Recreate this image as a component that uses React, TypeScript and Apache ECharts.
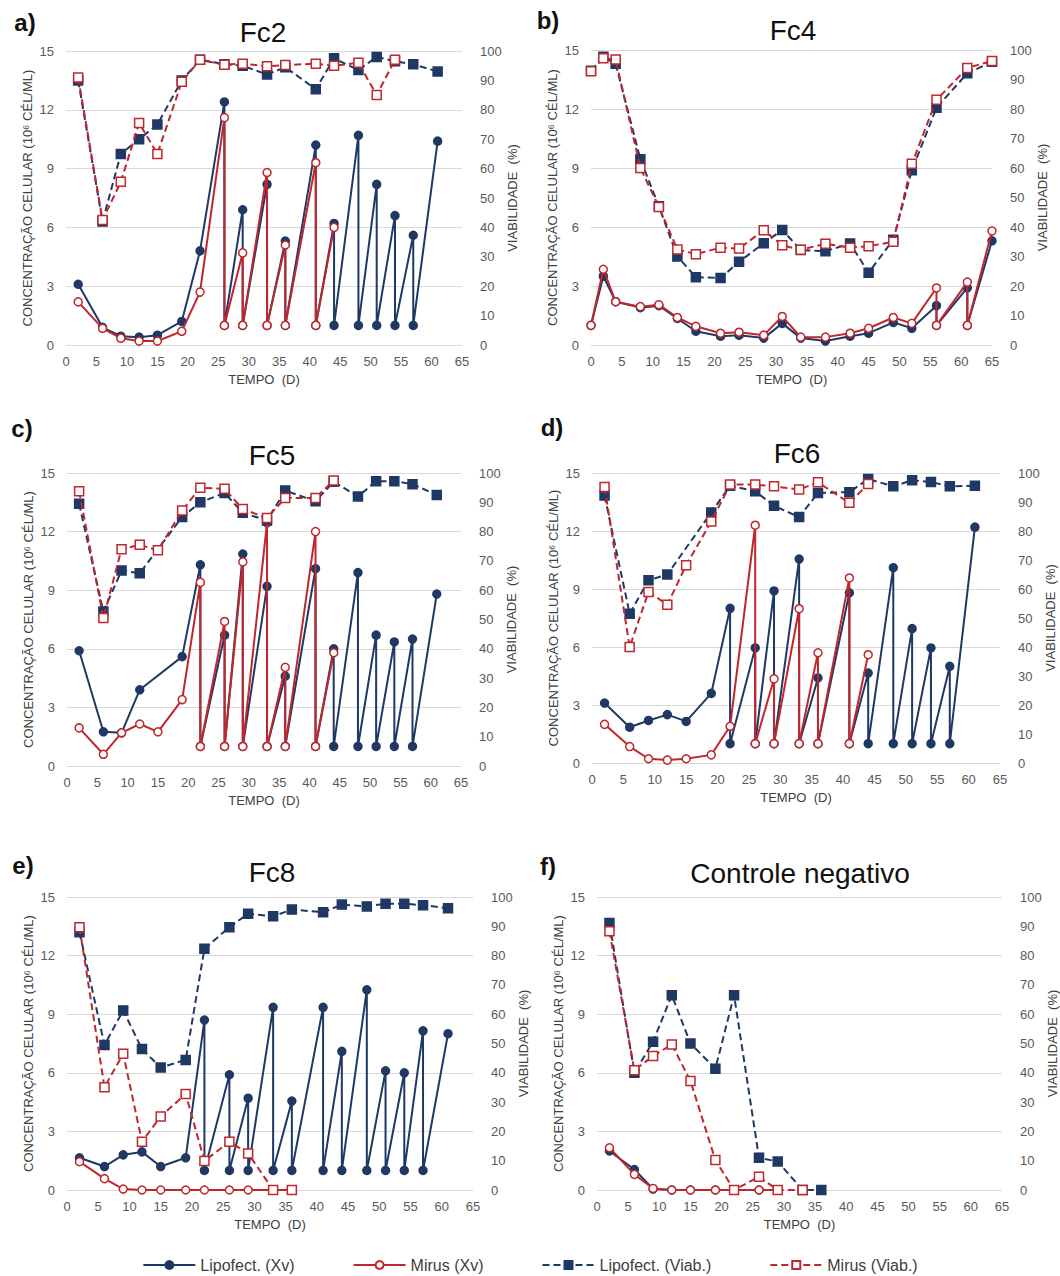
import React, { useEffect, useRef } from 'react';
import * as echarts from 'echarts';

const BLUE = '#1f3864';
const RED = '#c0262d';
const FONT = '"Liberation Sans", Arial, sans-serif';

const seriesNames = ['Lipofect. (Xv)', 'Mirus (Xv)', 'Lipofect. (Viab.)', 'Mirus (Viab.)'];
const panelTitles = ['Fc2', 'Fc4', 'Fc5', 'Fc6', 'Fc8', 'Controle negativo'];
const panelLetters = ['a)', 'b)', 'c)', 'd)', 'e)', 'f)'];
const leftTicks = { min: 0, max: 15, interval: 3 };
const rightTicks = { min: 0, max: 100, interval: 10 };
const xTicks = { min: 0, max: 65, interval: 5 };

// Fc2
const fc2LipoXv = [[2,3.1],[6,0.9],[9,0.45],[12,0.4],[15,0.5],[19,1.2],[22,4.8],[26,12.4],[26,1],[29,6.9],[29,1],[33,8.2],[33,1],[36,5.3],[36,1],[41,10.2],[41,1],[44,6.2],[44,1],[48,10.7],[48,1],[51,8.2],[51,1],[54,6.6],[54,1],[57,5.6],[57,1],[61,10.4]];
const fc2MirusXv = [[2,2.2],[6,0.85],[9,0.35],[12,0.2],[15,0.2],[19,0.7],[22,2.7],[26,11.6],[26,1],[29,4.7],[29,1],[33,8.8],[33,1],[36,5.1],[36,1],[41,9.3],[41,1],[44,6.0]];
const fc2LipoViab = [[2,90],[6,42],[9,65],[12,70],[15,75],[19,90],[22,97],[26,95.5],[29,95],[33,92],[36,94.5],[41,87],[44,97.5],[48,93.5],[51,98],[54,96.5],[57,95.5],[61,93]];
const fc2MirusViab = [[2,91],[6,42.5],[9,55.5],[12,75.5],[15,65],[19,89.5],[22,97],[26,95.3],[29,95.7],[33,94.8],[36,95.2],[41,95.7],[44,95],[48,96],[51,85],[54,97]];

// Fc4
const fc4LipoXv = [[0,1.0],[2,3.5],[4,2.2],[8,1.9],[11,2.0],[14,1.35],[17,0.7],[21,0.45],[24,0.5],[28,0.35],[31,1.1],[34,0.35],[38,0.2],[42,0.45],[45,0.6],[49,1.15],[52,0.85],[56,2.0],[56,1.0],[61,2.9],[61,1.0],[65,5.3]];
const fc4MirusXv = [[0,1.0],[2,3.85],[4,2.2],[8,1.95],[11,2.05],[14,1.4],[17,0.95],[21,0.6],[24,0.65],[28,0.5],[31,1.45],[34,0.4],[38,0.4],[42,0.6],[45,0.85],[49,1.4],[52,1.1],[56,2.9],[56,1.0],[61,3.2],[61,1.0],[65,5.8]];
const fc4LipoViab = [[0,93],[2,97.7],[4,95.3],[8,63],[11,47],[14,30],[17,23],[21,22.7],[24,28.2],[28,34.5],[31,39],[34,32.2],[38,31.8],[42,34.4],[45,24.5],[49,35.7],[52,59.2],[56,80.4],[61,92.1],[65,96]];
const fc4MirusViab = [[0,92.8],[2,97.2],[4,96.8],[8,60],[11,46.8],[14,32.4],[17,30.8],[21,33],[24,32.7],[28,38.9],[31,33.8],[34,32.3],[38,34.3],[42,33],[45,33.5],[49,35],[52,61.4],[56,83.1],[61,93.9],[65,96.3]];

// Fc5
const fc5LipoXv = [[2,5.9],[6,1.75],[9,1.7],[12,3.9],[19,5.6],[22,10.3],[22,1],[26,6.7],[26,1],[29,10.85],[29,1],[33,9.2],[33,1],[36,4.6],[36,1],[41,10.1],[41,1],[44,6.0],[44,1],[48,9.9],[48,1],[51,6.7],[51,1],[54,6.35],[54,1],[57,6.5],[57,1],[61,8.8]];
const fc5MirusXv = [[2,1.95],[6,0.6],[9,1.7],[12,2.15],[15,1.75],[19,3.4],[22,9.4],[22,1],[26,7.4],[26,1],[29,10.45],[29,1],[33,12.45],[33,1],[36,5.05],[36,1],[41,12.0],[41,1],[44,5.8]];
const fc5LipoViab = [[2,89.5],[6,52.7],[9,66.7],[12,65.8],[19,85],[22,90],[26,93.2],[29,86.4],[33,83.8],[36,94],[41,90.4],[44,97],[48,92],[51,97.2],[54,97.2],[57,96.2],[61,92.5]];
const fc5MirusViab = [[2,93.8],[6,50.5],[9,74],[12,75.5],[15,73.6],[19,87.2],[22,95],[26,94.6],[29,87.7],[33,84.6],[36,91.5],[41,91.5],[44,97.4]];

// Fc6
const fc6LipoXv = [[2,3.1],[6,1.85],[9,2.2],[12,2.5],[15,2.15],[19,3.6],[22,8.0],[22,1],[26,5.95],[26,1],[29,8.9],[29,1],[33,10.55],[33,1],[36,4.4],[36,1],[41,8.8],[41,1],[44,4.65],[44,1],[48,10.1],[48,1],[51,6.95],[51,1],[54,5.95],[54,1],[57,5.0],[57,1],[61,12.2]];
const fc6MirusXv = [[2,2.0],[6,0.85],[9,0.22],[12,0.15],[15,0.22],[19,0.42],[22,1.9],[26,12.3],[26,1],[29,4.35],[29,1],[33,7.98],[33,1],[36,5.7],[36,1],[41,9.57],[41,1],[44,5.6]];
const fc6LipoViab = [[2,92.2],[6,51.5],[9,63],[12,65],[19,86.4],[22,95.6],[26,93.7],[29,88.7],[33,84.8],[36,93.1],[41,93.4],[44,97.9],[48,95.4],[51,97.5],[54,96.9],[57,95.4],[61,95.6]];
const fc6MirusViab = [[2,95.2],[6,40],[9,59],[12,54.6],[15,68.2],[19,83.3],[22,96],[26,96],[29,95.4],[33,94.3],[36,96.8],[41,89.7],[44,96.2]];

// Fc8
const fc8LipoXv = [[2,1.65],[6,1.2],[9,1.8],[12,1.95],[15,1.2],[19,1.65],[22,8.7],[22,1],[26,5.9],[26,1],[29,4.7],[29,1],[33,9.35],[33,1],[36,4.55],[36,1],[41,9.35],[41,1],[44,7.1],[44,1],[48,10.25],[48,1],[51,6.1],[51,1],[54,6.0],[54,1],[57,8.15],[57,1],[61,8.0]];
const fc8MirusXv = [[2,1.45],[6,0.58],[9,0.05],[12,0],[15,0],[19,0],[22,0],[26,0],[29,0],[33,0],[36,0]];
const fc8LipoViab = [[2,88],[6,49.5],[9,61.3],[12,48.1],[15,41.8],[19,44.4],[22,82.3],[26,89.7],[29,94.3],[33,93.4],[36,95.7],[41,94.8],[44,97.4],[48,96.8],[51,97.7],[54,97.7],[57,97.2],[61,96.2]];
const fc8MirusViab = [[2,89.7],[6,35.1],[9,46.5],[12,16.5],[15,25.1],[19,32.8],[22,9.9],[26,16.5],[29,12.5],[33,0],[36,0]];

// Controle negativo
const cnLipoXv = [[2,2.0],[6,1.05],[9,0.05],[12,0],[15,0],[19,0],[22,0],[26,0],[29,0]];
const cnMirusXv = [[2,2.16],[6,0.8],[9,0.08],[12,0],[15,0],[19,0],[22,0],[26,0],[29,0]];
const cnLipoViab = [[2,91.1],[6,40],[9,50.6],[12,66.5],[15,50],[19,41.4],[22,66.5],[26,11],[29,9.7],[33,0],[36,0]];
const cnMirusViab = [[2,88.3],[6,40.9],[9,45.7],[12,49.7],[15,37.2],[19,10.2],[22,0],[26,4.5],[29,0],[33,0]];

const panelData = [
  [fc2LipoXv, fc2MirusXv, fc2LipoViab, fc2MirusViab],
  [fc4LipoXv, fc4MirusXv, fc4LipoViab, fc4MirusViab],
  [fc5LipoXv, fc5MirusXv, fc5LipoViab, fc5MirusViab],
  [fc6LipoXv, fc6MirusXv, fc6LipoViab, fc6MirusViab],
  [fc8LipoXv, fc8MirusXv, fc8LipoViab, fc8MirusViab],
  [cnLipoXv, cnMirusXv, cnLipoViab, cnMirusViab],
];

// layout (pixels)
const gridRects = [
  { left: 66, top: 51, width: 396, height: 294 },
  { left: 591, top: 50, width: 401, height: 295 },
  { left: 67, top: 473, width: 394, height: 293 },
  { left: 592, top: 473, width: 408, height: 290 },
  { left: 67, top: 897, width: 406, height: 293 },
  { left: 597, top: 897, width: 405, height: 293 },
];
const titlePos = [[263, 32], [793, 30], [272, 455], [797, 453], [272, 872], [800, 873]];
const letterPos = [[25, 22], [548, 20], [22, 428], [552, 427], [23, 865], [548, 866]];

const seriesStyles = [
  { lineType: 'solid', symbol: 'circle', size: 8, fill: BLUE, color: BLUE, yRight: false },
  { lineType: 'solid', symbol: 'circle', size: 8, fill: '#ffffff', color: RED, yRight: false },
  { lineType: [7, 4], symbol: 'rect', size: 9, fill: BLUE, color: BLUE, yRight: true },
  { lineType: [7, 4], symbol: 'rect', size: 9, fill: '#ffffff', color: RED, yRight: true },
];

function buildOption() {
  const grid: any[] = [];
  const xAxis: any[] = [];
  const yAxis: any[] = [];
  const series: any[] = [];
  const graphic: any[] = [];
  const axisLabel = { color: '#595959', fontSize: 13, fontFamily: FONT };
  const nameStyle = { color: '#404040', fontSize: 13, fontFamily: FONT };

  gridRects.forEach((g, i) => {
    grid.push({ ...g, containLabel: false });
    xAxis.push({
      type: 'value', gridIndex: i, ...xTicks,
      name: 'TEMPO  (D)', nameLocation: 'middle', nameGap: 28,
      nameTextStyle: nameStyle,
      axisLine: { show: false }, axisTick: { show: false }, splitLine: { show: false },
      axisLabel: { ...axisLabel, margin: 10 },
    });
    yAxis.push({
      type: 'value', gridIndex: i, position: 'left', ...leftTicks,
      name: 'CONCENTRAÇÃO CELULAR (10⁶ CÉL/ML)', nameLocation: 'middle', nameGap: 32, nameRotate: 90,
      nameTextStyle: nameStyle,
      axisLine: { show: false }, axisTick: { show: false },
      splitLine: { show: true, lineStyle: { color: '#d9d9d9', width: 1 } },
      axisLabel: { ...axisLabel, margin: 12 },
    });
    yAxis.push({
      type: 'value', gridIndex: i, position: 'right', ...rightTicks,
      name: 'VIABILIDADE  (%)', nameLocation: 'middle', nameGap: 39, nameRotate: 90,
      nameTextStyle: nameStyle,
      axisLine: { show: false }, axisTick: { show: false }, splitLine: { show: false },
      axisLabel: { ...axisLabel, margin: 18 },
    });
    panelData[i].forEach((data, k) => {
      const st = seriesStyles[k];
      series.push({
        type: 'line', name: seriesNames[k], data,
        xAxisIndex: i, yAxisIndex: st.yRight ? 2 * i + 1 : 2 * i,
        symbol: st.symbol, symbolSize: st.size, showSymbol: true,
        lineStyle: { color: st.color, width: 2, type: st.lineType },
        itemStyle: { color: st.fill, borderColor: st.color, borderWidth: 1.5 },
        emphasis: { disabled: true },
        z: 2 + k,
      });
    });
    graphic.push({
      type: 'text', x: titlePos[i][0], y: titlePos[i][1],
      style: { text: panelTitles[i], fontSize: 28, fontFamily: FONT, fill: '#111', align: 'center', verticalAlign: 'middle', textAlign: 'center', textVerticalAlign: 'middle' },
    });
    graphic.push({
      type: 'text', x: letterPos[i][0], y: letterPos[i][1],
      style: { text: panelLetters[i], fontSize: 24, fontWeight: 'bold', fontFamily: FONT, fill: '#111', align: 'center', verticalAlign: 'middle', textAlign: 'center', textVerticalAlign: 'middle' },
    });
  });

  return {
    animation: false,
    backgroundColor: '#ffffff',
    grid, xAxis, yAxis, series, graphic,
    legend: {
      data: seriesNames, top: 1256, left: 'center', padding: 0,
      itemWidth: 52, itemHeight: 10, itemGap: 58,
      textStyle: { color: '#404040', fontSize: 16, fontFamily: FONT, lineHeight: 18 },
    },
  };
}

export default function App() {
  const ref = useRef<HTMLDivElement>(null);
  useEffect(() => {
    if (!ref.current) return;
    const chart = echarts.init(ref.current, undefined, { renderer: 'svg' });
    chart.setOption(buildOption() as any);
    return () => chart.dispose();
  }, []);
  return (
    <div
      ref={ref}
      style={{ position: 'absolute', left: 0, top: 0, width: 1060, height: 1276, background: '#fff' }}
    />
  );
}
